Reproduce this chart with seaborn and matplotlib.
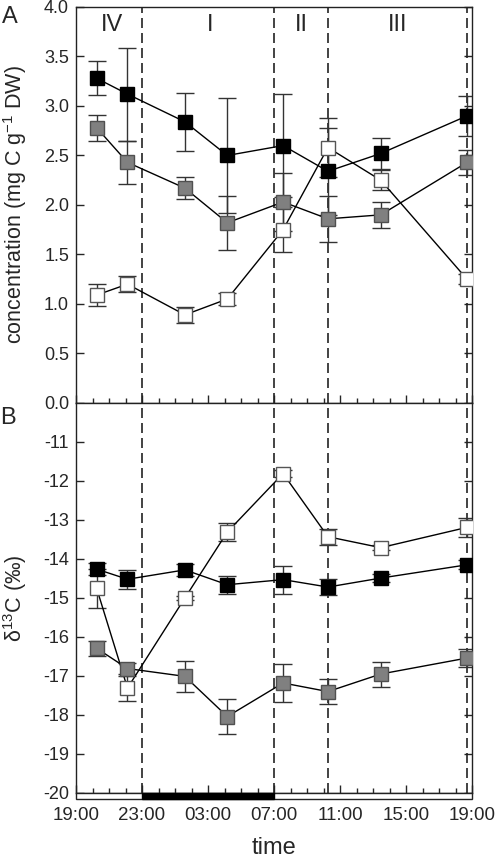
import matplotlib
matplotlib.use('Agg')
import matplotlib.pyplot as plt
import seaborn as sns
import numpy as np
from matplotlib.patches import Rectangle
from matplotlib.transforms import blended_transform_factory

sns.set_style('ticks')
plt.rcParams['font.family'] = ['Liberation Sans', 'DejaVu Sans']
plt.rcParams['mathtext.fontset'] = 'custom'
plt.rcParams['mathtext.rm'] = 'Liberation Sans'
plt.rcParams['mathtext.it'] = 'Liberation Sans'

# sampling times, hours after 19:00
hours = [1.25, 3.12, 6.6, 9.17, 12.55, 15.27, 18.47, 23.7]
tick_labels = ['19:00', '23:00', '03:00', '07:00', '11:00', '15:00', '19:00']
phase_bounds = [4, 12, 15.27, 23.7]
phase_names = ['IV', 'I', 'II', 'III']
phase_x = [2.2, 8.1, 13.65, 19.5]
dark_period = (4, 12)

# panel A: concentration (mg C g-1 DW)
black_conc = [3.28, 3.12, 2.84, 2.50, 2.60, 2.34, 2.52, 2.90]
black_conc_err = [0.17, 0.47, 0.29, 0.58, 0.52, 0.44, 0.16, 0.20]
gray_conc = [2.78, 2.43, 2.17, 1.82, 2.03, 1.86, 1.90, 2.43]
gray_conc_err = [0.13, 0.22, 0.11, 0.27, 0.29, 0.23, 0.13, 0.13]
white_conc = [1.09, 1.20, 0.89, 1.05, 1.75, 2.58, 2.25, 1.25]
white_conc_err = [0.11, 0.08, 0.08, 0.06, 0.23, 0.30, 0.10, 0.05]

# panel B: delta 13C (permil)
black_d13c = [-14.26, -14.52, -14.28, -14.66, -14.53, -14.72, -14.49, -14.15]
black_d13c_err = [0.15, 0.24, 0.15, 0.23, 0.36, 0.20, 0.10, 0.12]
gray_d13c = [-16.29, -16.81, -17.01, -18.04, -17.18, -17.40, -16.95, -16.54]
gray_d13c_err = [0.19, 0.15, 0.40, 0.45, 0.48, 0.31, 0.32, 0.24]
white_d13c = [-14.75, -17.31, -15.00, -13.31, -11.81, -13.43, -13.71, -13.19]
white_d13c_err = [0.50, 0.32, 0.06, 0.24, 0.08, 0.21, 0.06, 0.24]

styles = [('white', '#555555'), ('#808080', '#505050'), ('black', 'black')]

fig = plt.figure(figsize=(5, 8.61), dpi=100)
ax1 = fig.add_axes([0.152, 0.532, 0.792, 0.4599])
ax2 = fig.add_axes([0.152, 0.079, 0.792, 0.453])


def draw_series(ax, series):
  for (vals, errs), (fc, ec) in zip(series, styles):
    ax.errorbar(hours, vals, yerr=errs, fmt='none', ecolor='#333333',
                elinewidth=1, capsize=6.5, capthick=1, zorder=2)
    sns.lineplot(x=hours, y=vals, ax=ax, color='black', lw=1, marker='s',
                 markersize=9.5, markerfacecolor=fc, markeredgecolor=ec,
                 markeredgewidth=1, zorder=3, legend=False)


draw_series(ax1, [(white_conc, white_conc_err), (gray_conc, gray_conc_err),
                  (black_conc, black_conc_err)])
draw_series(ax2, [(white_d13c, white_d13c_err), (gray_d13c, gray_d13c_err),
                  (black_d13c, black_d13c_err)])

for ax in (ax1, ax2):
  for b in phase_bounds:
    ax.axvline(b, color='#222222', lw=1.2, ls=(0, (6, 3)), zorder=1)
  ax.set_xlim(0, 24)
  ax.set_xticks(np.arange(0, 25, 4))
  ax.set_xticks(np.arange(0, 25, 1), minor=True)
  ax.tick_params(axis='x', which='major', direction='in', length=6,
                 width=1, top=False, labelsize=13.5, pad=10)
  ax.tick_params(axis='x', which='minor', direction='in', length=3.5,
                 width=1, top=False)
  ax.tick_params(axis='y', direction='in', length=6, width=1, left=True,
                 right=True, labelsize=13, pad=5)
  for s in ax.spines.values():
    s.set_visible(True)
    s.set_linewidth(1)
    s.set_color('#222222')
  ax.set_xlabel('')
  ax.set_ylabel('')

ax1.set_ylim(0, 4)
ax1.set_yticks(np.arange(0, 4.01, 0.5))
ax1.set_yticklabels(['%.1f' % v for v in np.arange(0, 4.01, 0.5)])
ax1.tick_params(axis='x', labelbottom=False)
for name, x in zip(phase_names, phase_x):
  ax1.text(x, 3.82, name, ha='center', va='center', fontsize=17)

ax2.set_ylim(-20, -10)
ax2.set_yticks(np.arange(-20, -10.5, 1))
ax2.set_yticklabels(['%d' % v for v in np.arange(-20, -10.5, 1)])
ax2.set_xticklabels(tick_labels)

# light / dark bar under the time axis
trans = blended_transform_factory(ax2.transData, ax2.transAxes)
h = 0.0155
ax2.add_patch(Rectangle((0, -h), 24, h, transform=trans, fc='white',
                        ec='#222222', lw=1, clip_on=False, zorder=5))
ax2.add_patch(Rectangle((dark_period[0], -h), dark_period[1] - dark_period[0],
                        h, transform=trans, fc='black', ec='black', lw=1,
                        clip_on=False, zorder=6))

ax1.set_ylabel('concentration (mg C g$^{-1}$ DW)', fontsize=15.5)
ax1.yaxis.set_label_coords(-0.118, 0.5)
ax2.set_ylabel('δ$^{13}$C (‰)', fontsize=15.5)
ax2.yaxis.set_label_coords(-0.118, 0.5)
fig.text(0.548, 0.002, 'time', ha='center', va='bottom', fontsize=17)

fig.text(0.004, 0.993, 'A', ha='left', va='top', fontsize=17)
fig.text(0.0, 0.527, 'B', ha='left', va='top', fontsize=17)

fig.savefig('out.png', dpi=100)
